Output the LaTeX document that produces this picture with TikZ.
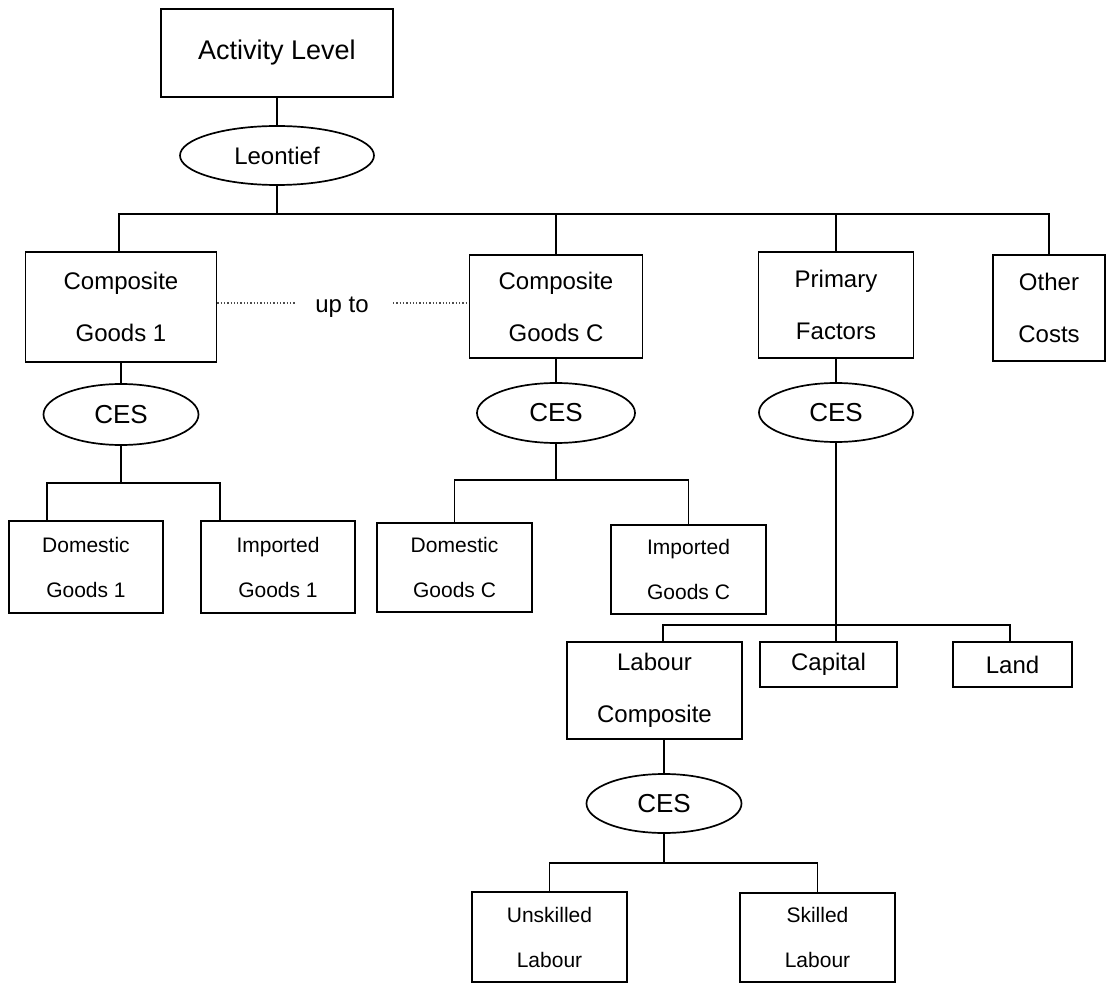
\documentclass[tikz,border=0pt]{standalone}
\usepackage{fontspec}
\setmainfont{Liberation Sans}
\usetikzlibrary{shapes.geometric}
\begin{document}
\begin{tikzpicture}[x=1pt,y=-1pt,
  line width=1.7pt,
  box/.style={draw, rectangle, inner sep=0pt, align=center, font=\fontsize{24}{52}\selectfont},
  sbox/.style={draw, rectangle, inner sep=0pt, align=center, font=\fontsize{21}{45}\selectfont},
  oval/.style={draw, ellipse, inner sep=0pt, font=\fontsize{26}{30}\selectfont},
  dots/.style={dotted, line width=1.3pt, black!70}
]
\useasboundingbox (0,0) rectangle (1109,984);

% top
\node[box, font=\fontsize{27}{30}\selectfont, minimum width=232pt, minimum height=88pt] (act) at (277,53) {Activity Level};
\node[oval, font=\fontsize{24}{28}\selectfont, minimum width=194pt, minimum height=59pt] (leon) at (277,155.5) {Leontief};

% second level
\node[box, minimum width=191pt, minimum height=110pt] (cg1) at (121,307) {Composite\\Goods 1};
\node[box, minimum width=173pt, minimum height=103pt] (cgc) at (556,306.5) {Composite\\Goods C};
\node[box, minimum width=155pt, minimum height=106pt] (pf) at (836,305) {Primary\\Factors};
\node[box, minimum width=112pt, minimum height=106pt] (oc) at (1049,308) {Other\\Costs};
\node[font=\fontsize{24}{28}\selectfont, anchor=base, inner sep=0pt] (upto) at (342,313) {up to};

% CES ellipses
\node[oval, minimum width=155pt, minimum height=61pt] (ces1) at (121,414.5) {CES};
\node[oval, minimum width=158pt, minimum height=60pt] (ces2) at (556,413) {CES};
\node[oval, minimum width=154pt, minimum height=59pt] (ces3) at (836,412.5) {CES};

% goods
\node[sbox, minimum width=154pt, minimum height=92pt] (dg1) at (86,567) {Domestic\\Goods 1};
\node[sbox, minimum width=154pt, minimum height=92pt] (ig1) at (278,567) {Imported\\Goods 1};
\node[sbox, minimum width=155pt, minimum height=89pt] (dgc) at (454.5,567.5) {Domestic\\Goods C};
\node[sbox, minimum width=155pt, minimum height=89pt] (igc) at (688.5,569.5) {Imported\\Goods C};

% factors
\node[box, minimum width=175pt, minimum height=97pt] (lc) at (654.5,690.5) {Labour\\Composite};
\node[box, minimum width=137pt, minimum height=45pt] (cap) at (828.5,664.5) {Capital};
\node[box, minimum width=119pt, minimum height=45pt] (land) at (1012.5,664.5) {Land};

\node[oval, minimum width=155pt, minimum height=59pt] (ces4) at (664,803.5) {CES};
\node[sbox, minimum width=155pt, minimum height=90pt] (ul) at (549.5,937) {Unskilled\\Labour};
\node[sbox, minimum width=155pt, minimum height=89pt] (sl) at (817.5,937.5) {Skilled\\Labour};

% bus coordinates
\coordinate (b0) at (277,214);
\coordinate (t1) at (119,214);
\coordinate (s1) at (47,483);
\coordinate (s2) at (220,483);
\coordinate (b2) at (556,480);
\coordinate (s3) at (663,625);
\coordinate (s4) at (1010,625);
\coordinate (b4) at (664,863);
\coordinate (d1) at (296,303);
\coordinate (d2) at (393,303);

% connectors
\draw (act.south) -- (leon.north);
\draw (leon.south) -- (b0);
\draw (cg1.north -| t1) -- (t1) -| (oc.north);
\draw (cgc.north) -- (cgc.north |- b0);
\draw (pf.north) -- (pf.north |- b0);

\draw[dots] (cg1.east |- d1) -- (d1);
\draw[dots] (d2) -- (cgc.west |- d2);

\draw (cg1.south) -- (ces1.north);
\draw (cgc.south) -- (ces2.north);
\draw (pf.south) -- (ces3.north);

\draw (ces1.south) -- (ces1.south |- s1);
\draw (dg1.north -| s1) -- (s1) -- (s2) -- (ig1.north -| s2);

\draw (ces2.south) -- (b2);
\draw (dgc.north) |- (b2) -| (igc.north);

\draw (ces3.south) -- (ces3.south |- cap.north);
\draw (lc.north -| s3) -- (s3) -- (s4) -- (land.north -| s4);

\draw (lc.south -| ces4.north) -- (ces4.north);
\draw (ces4.south) -- (b4);
\draw (ul.north) |- (b4) -| (sl.north);
\end{tikzpicture}
\end{document}
